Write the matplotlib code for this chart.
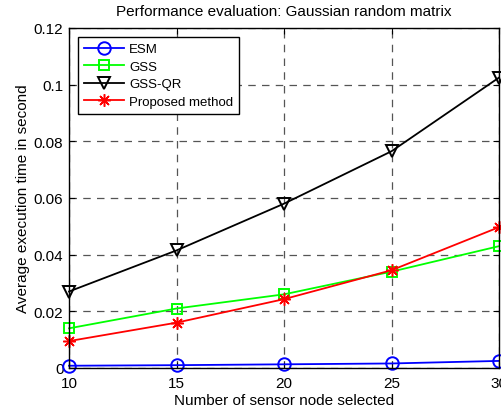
import matplotlib
matplotlib.use("Agg")
import matplotlib.pyplot as plt

plt.rcParams["font.family"] = ["Liberation Sans", "DejaVu Sans"]

nodes = [10, 15, 20, 25, 30]
esm = [0.0008, 0.0010, 0.0013, 0.0016, 0.0025]
gss = [0.0140, 0.0210, 0.0260, 0.0340, 0.0430]
gss_qr = [0.0270, 0.0415, 0.0580, 0.0765, 0.1025]
proposed = [0.0095, 0.0160, 0.0243, 0.0345, 0.0497]

fig = plt.figure(figsize=(5.01, 4.14), dpi=100)
ax = fig.add_axes([69 / 501, 45 / 414, 430 / 501, 340 / 414])

common = dict(lw=1.3, clip_on=False, zorder=3)
ax.plot(nodes, esm, color="#0000ff", marker="o", ms=9, mfc="none", mew=1.4, label="ESM", **common)
ax.plot(nodes, gss, color="#00ff00", marker="s", ms=7.5, mfc="none", mew=1.4, label="GSS", **common)
ax.plot(nodes, gss_qr, color="black", marker="v", ms=9, mfc="none", mew=1.4, label="GSS-QR", **common)
ax.plot(nodes, proposed, color="#ff0000", marker=(8, 2, 0), ms=9, mew=1.1, label="Proposed method", **common)

ax.set_xlim(10, 30)
ax.set_ylim(0, 0.12)
ax.set_xticks(nodes)
ax.set_yticks([0, 0.02, 0.04, 0.06, 0.08, 0.1, 0.12])
ax.set_yticklabels(["0", "0.02", "0.04", "0.06", "0.08", "0.1", "0.12"])
ax.tick_params(direction="in", labelsize=11, length=4, top=True, right=True)
ax.tick_params(axis="x", pad=6)
ax.tick_params(axis="y", pad=4)
ax.grid(True, ls=(0, (6, 5)), color="#555555", lw=0.9)
for s in ax.spines.values():
    s.set_linewidth(1.0)
    s.set_zorder(4)

ax.set_xlabel("Number of sensor node selected", fontsize=11, labelpad=2)
ax.set_ylabel("Average execution time in second", fontsize=11, labelpad=3)
ax.set_title("Performance evaluation: Gaussian random matrix", fontsize=11, pad=9)

leg = ax.legend(loc="upper left", fontsize=9.5, fancybox=False, edgecolor="black",
                framealpha=1, borderaxespad=0.7, handlelength=3.0, labelspacing=0.4,
                handletextpad=0.4, borderpad=0.45)
leg.get_frame().set_linewidth(1.0)
leg.set_zorder(5)

fig.savefig("out.png", dpi=100)
